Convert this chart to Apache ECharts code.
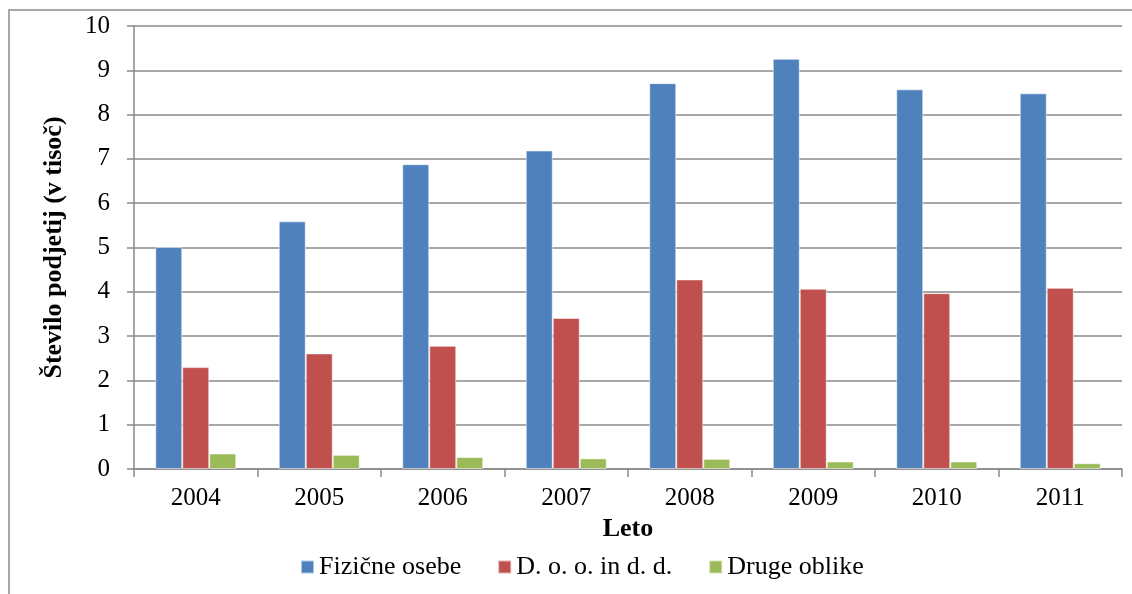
<!DOCTYPE html>
<html>
<head>
<meta charset="utf-8">
<script src="https://cdn.jsdelivr.net/npm/echarts@6/dist/echarts.min.js"></script>
<style>
html,body{margin:0;padding:0;background:#fff;}
#chart{width:1132px;height:594px;}
</style>
</head>
<body>
<div id="chart"></div>
<script>
const years = ['2004','2005','2006','2007','2008','2009','2010','2011'];
const fizicneOsebe = [5.01, 5.59, 6.88, 7.19, 8.71, 9.26, 8.57, 8.48];
const dooInDd = [2.30, 2.61, 2.78, 3.41, 4.28, 4.07, 3.97, 4.09];
const drugeOblike = [0.35, 0.32, 0.27, 0.24, 0.23, 0.17, 0.17, 0.13];
const seriesNames = ['Fizične osebe', 'D. o. o. in d. d.', 'Druge oblike'];
const colors = ['#4F81BD', '#C0504D', '#9BBB59'];

const font = '"Liberation Serif", "Times New Roman", serif';
const gridColor = '#8a8a8a';
const fs = 25;

const chart = echarts.init(document.getElementById('chart'), null, {renderer: 'canvas'});
const mkSeries = (name, data, color) => ({
  name: name,
  type: 'bar',
  data: data,
  barWidth: 27,
  barGap: '0%',
  itemStyle: {color: color, borderColor: 'rgba(255,255,255,0.55)', borderWidth: 1},
  emphasis: {disabled: true}
});
chart.setOption({
  animation: false,
  backgroundColor: '#fff',
  color: colors,
  graphic: [{
    type: 'rect',
    shape: {x: 9, y: 10, width: 1300, height: 700},
    style: {fill: 'none', stroke: gridColor, lineWidth: 1.5},
    silent: true
  }],
  grid: {left: 134, right: 10, top: 26, bottom: 125},
  legend: {
    left: 295, top: 549,
    itemWidth: 13, itemHeight: 13, itemGap: 36,
    icon: 'rect',
    textStyle: {fontFamily: font, fontSize: 26, color: '#000', padding: [0, 0, 0, 0]},
    data: seriesNames
  },
  xAxis: {
    type: 'category',
    data: years,
    name: 'Leto',
    nameLocation: 'middle',
    nameGap: 43,
    nameTextStyle: {fontFamily: font, fontSize: 26, fontWeight: 'bold', color: '#000'},
    axisLine: {lineStyle: {color: gridColor, width: 1.5}},
    axisTick: {show: true, length: 8, lineStyle: {color: gridColor, width: 1.5}},
    axisLabel: {fontFamily: font, fontSize: fs, color: '#000', margin: 17}
  },
  yAxis: {
    type: 'value',
    min: 0, max: 10, interval: 1,
    name: 'Število podjetij (v tisoč)',
    nameLocation: 'middle',
    nameGap: 67,
    nameRotate: 90,
    nameTextStyle: {fontFamily: font, fontSize: 26, fontWeight: 'bold', color: '#000'},
    axisLine: {show: true, lineStyle: {color: gridColor, width: 1.5}},
    axisTick: {show: true, length: 7, lineStyle: {color: gridColor, width: 1.5}},
    axisLabel: {fontFamily: font, fontSize: fs, color: '#000', margin: 24},
    splitLine: {show: true, lineStyle: {color: gridColor, width: 1.5}}
  },
  series: [
    mkSeries(seriesNames[0], fizicneOsebe, colors[0]),
    mkSeries(seriesNames[1], dooInDd, colors[1]),
    mkSeries(seriesNames[2], drugeOblike, colors[2])
  ]
});
</script>
</body>
</html>
